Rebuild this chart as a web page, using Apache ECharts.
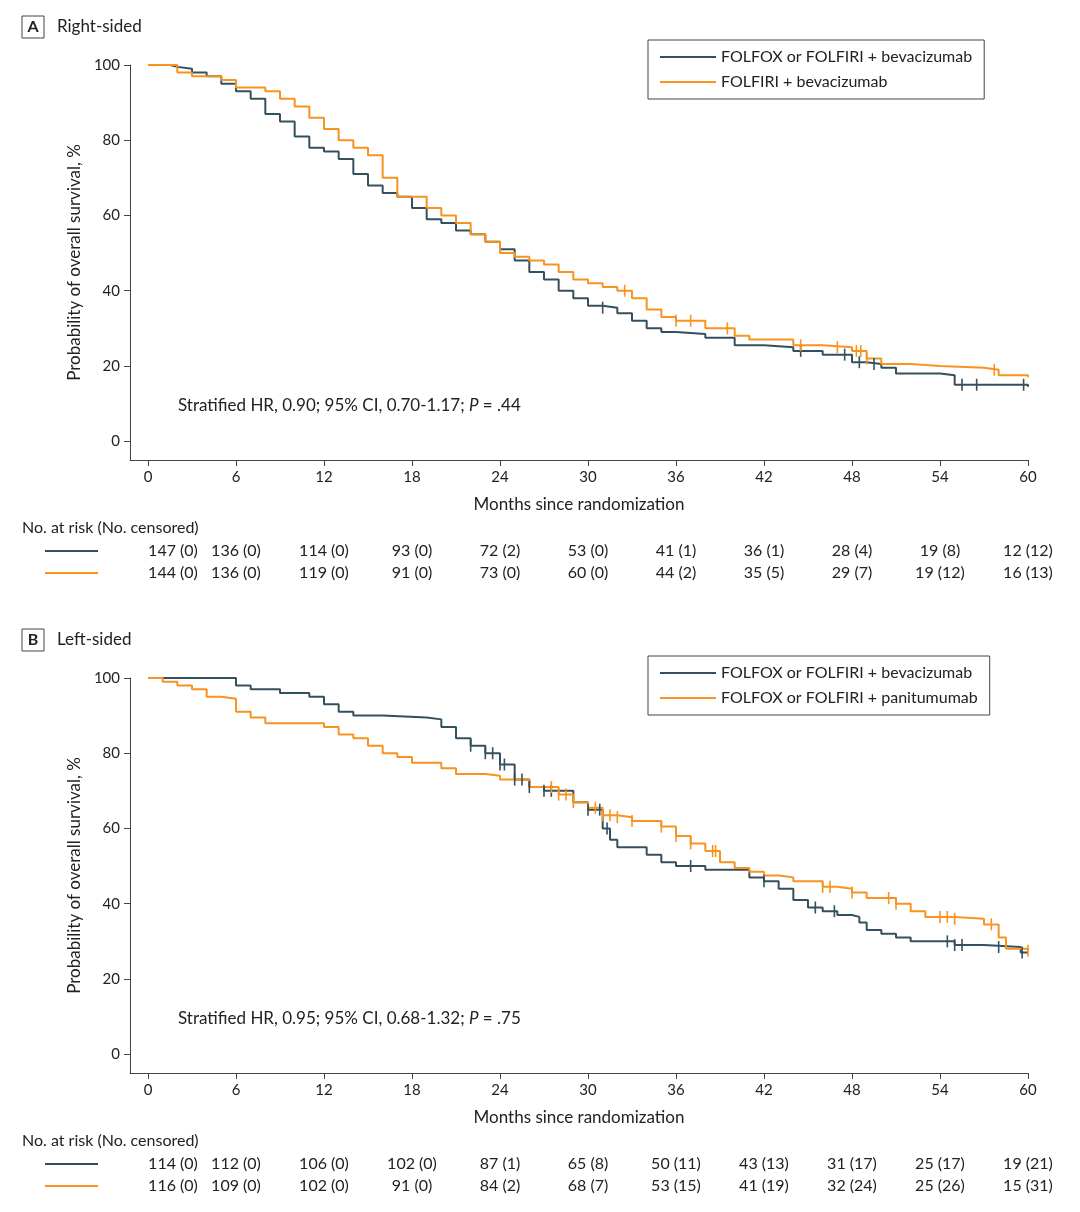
<!DOCTYPE html>
<html><head><meta charset="utf-8">
<script src="https://cdn.jsdelivr.net/npm/echarts@6/dist/echarts.min.js"></script>
<style>html,body{margin:0;background:#fff}#c{width:1080px;height:1212px}</style>
</head><body><div id="c"></div>
<script>
// Panel A (right-sided) KM step data [month, %]
const aBev = [[0,100],[1.5,99.5],[2,99],[3,98],[4,97],[5,95],[6,93],[7,91],[8,87],[9,85],[10,81],[11,78],[12,77],[13,75],[14,71],[15,68],[16,66],[17,65],[18,62],[19,59],[20,58],[21,56],[22,55],[23,53],[24,51],[25,48],[26,45],[27,43],[28,40],[29,38],[30,36],[31,35.5],[32,34],[33,32],[34,30],[35,29],[36,28.5],[38,27.5],[40,25.5],[42,25],[44,24],[46,23],[48,21],[49,20.5],[50,19.5],[51,18],[54,17.5],[55,15],[60,14.5]];
const aFolfiri = [[0,100],[2,98],[3,97],[5,96],[6,94],[8,93],[9,91],[10,89],[11,86],[12,83],[13,80],[14,78],[15,76],[16,70],[17,65],[19,62],[20,60],[21,58],[22,55],[23,53],[24,50],[25,49],[26,48],[27,47],[28,45],[29,43],[30,42],[31,41],[32,40],[33,38],[34,35],[35,33],[36,32],[38,30],[40,28],[41,27],[44,25.5],[46,25],[48,24],[49,22],[50,20.5],[52,20],[54,19.5],[57,19],[58,17.5],[60,17]];
const aBevCens = [31,44.5,47.5,48.5,49.5,55.5,56.5,59.7];
const aFolfiriCens = [32.5,36,37,39.5,44.5,47,48.3,48.6,49,57.7];
// Panel B (left-sided)
const bBev = [[0,100],[5,100],[6,98],[7,97],[9,96],[11,95],[12,93],[13,91],[14,90],[16,89.5],[19,89],[20,87],[21,84],[22,82],[23,80],[24,77],[25,73],[26,71],[27,70],[29,67],[30,65],[31,60],[31.5,57],[32,55],[34,53],[35,51],[36,50],[38,49],[41,47],[42,46],[43,44],[44,41],[45,39],[46,38],[47,37],[48,36.5],[48.5,35],[49,33],[50,32],[51,31],[52,30],[55,29],[57,28.5],[59.5,27],[60,27]];
const bPani = [[0,100],[1,99],[2,98],[3,97],[4,95],[5,94.5],[6,91],[7,89.5],[8,88],[12,87],[13,85],[14,84],[15,82],[16,80],[17,79],[18,77.5],[20,76],[21,74.5],[23,74],[24,73],[26,71],[28,69],[29,67],[30,65.5],[31,63.5],[32,63],[33,62],[35,60.5],[36,58],[37,56],[38,54],[39,51],[40,49.5],[41,48.5],[42,47.5],[43,47],[44,46],[46,44.5],[47,44],[48,43],[49,41.5],[51,40],[52,38],[53,36.5],[55,36],[57,34.5],[58,31],[58.5,28],[60,27.5]];
const bBevCens = [22,23,23.5,24,24.3,25,25.5,26,27,27.5,30,30.8,31.3,37,42,45.5,46.8,54.5,55,55.5,58,59.6];
const bPaniCens = [27.5,28,28.5,29,30.5,31,31.5,32,33,35,36,37,38.5,38.7,46,46.5,48,50.5,51,54,54.5,55,57.5,60];
// risk tables
const riskTimes = [0,6,12,18,24,30,36,42,48,54,60];
const aRiskBev = ['147 (0)','136 (0)','114 (0)','93 (0)','72 (2)','53 (0)','41 (1)','36 (1)','28 (4)','19 (8)','12 (12)'];
const aRiskFolfiri = ['144 (0)','136 (0)','119 (0)','91 (0)','73 (0)','60 (0)','44 (2)','35 (5)','29 (7)','19 (12)','16 (13)'];
const bRiskBev = ['114 (0)','112 (0)','106 (0)','102 (0)','87 (1)','65 (8)','50 (11)','43 (13)','31 (17)','25 (17)','19 (21)'];
const bRiskPani = ['116 (0)','109 (0)','102 (0)','91 (0)','84 (2)','68 (7)','53 (15)','41 (19)','32 (24)','25 (26)','15 (31)'];
const xTicks = [0,6,12,18,24,30,36,42,48,54,60];
const yTicks = [0,20,40,60,80,100];

const DARK = '#34505e', ORANGE = '#f7931e', FONT = 'Lato';
const chart = echarts.init(document.getElementById('c'));

function stepLine(name, data, color, g) {
  return {name, type:'line', step:'end', data, xAxisIndex:g, yAxisIndex:g, showSymbol:false, symbol:'none',
    lineStyle:{color, width:2}, itemStyle:{color}, silent:true};
}
function cens(ts, curve, color, g) {
  const val = t => { let v = curve[0][1]; for (const p of curve) if (p[0] <= t) v = p[1]; return v; };
  return {type:'scatter', data: ts.map(t => [t, val(t)]), xAxisIndex:g, yAxisIndex:g,
    symbol:'rect', symbolSize:[1.6,12], itemStyle:{color, opacity:1}, silent:true, z:3};
}
const tops = [65, 678];
const grids = tops.map(t => ({left:130, right:52, top:t, height:395}));
const xAxes = tops.map((t,i) => ({type:'value', gridIndex:i, min:-1.227, max:60,
  name:'Months since randomization', nameLocation:'middle', nameGap:36,
  nameTextStyle:{fontFamily:FONT, fontSize:17, color:'#222'},
  axisLine:{onZero:false, lineStyle:{color:'#444'}}, axisTick:{customValues:xTicks, length:6, lineStyle:{color:'#444'}},
  axisLabel:{customValues:xTicks, fontFamily:FONT, fontSize:15, color:'#222', margin:10}, splitLine:{show:false}}));
const yAxes = tops.map((t,i) => ({type:'value', gridIndex:i, min:-5, max:100,
  name:'Probability of overall survival, %', nameLocation:'middle', nameGap:46,
  nameTextStyle:{fontFamily:FONT, fontSize:17, color:'#222'},
  axisLine:{onZero:false, lineStyle:{color:'#444'}}, axisTick:{customValues:yTicks, length:6, lineStyle:{color:'#444'}},
  axisLabel:{customValues:yTicks, fontFamily:FONT, fontSize:15, color:'#222', margin:10}, splitLine:{show:false}}));

const legendBase = {orient:'vertical', borderColor:'#444', borderWidth:1, padding:[9,12,9,12], itemGap:9,
  itemWidth:56, itemHeight:2, icon:'rect', textStyle:{fontFamily:FONT, fontSize:16, color:'#222'}};

chart.setOption({
  animation:false,
  grid:grids, xAxis:xAxes, yAxis:yAxes,
  legend:[
    Object.assign({left:648, top:40, data:['FOLFOX or FOLFIRI + bevacizumab','FOLFIRI + bevacizumab']}, legendBase),
    Object.assign({left:648, top:656, data:['FOLFOX or FOLFIRI + bevacizumab ','FOLFOX or FOLFIRI + panitumumab']}, legendBase)
  ],
  series:[
    stepLine('FOLFOX or FOLFIRI + bevacizumab', aBev, DARK, 0),
    stepLine('FOLFIRI + bevacizumab', aFolfiri, ORANGE, 0),
    cens(aBevCens, aBev, DARK, 0), cens(aFolfiriCens, aFolfiri, ORANGE, 0),
    stepLine('FOLFOX or FOLFIRI + bevacizumab ', bBev, DARK, 1),
    stepLine('FOLFOX or FOLFIRI + panitumumab', bPani, ORANGE, 1),
    cens(bBevCens, bBev, DARK, 1), cens(bPaniCens, bPani, ORANGE, 1)
  ]
});

const g = [];
const txt = (x, y, s, extra) => g.push(Object.assign({type:'text', x, y,
  style:Object.assign({text:s, fontFamily:FONT, fontSize:16, fill:'#222'}, extra||{})}));
function panel(i, letter, title, hr, risk1, risk2, yTitle, yRisk) {
  g.push({type:'rect', shape:{x:22, y:yTitle-11, width:22, height:22}, style:{fill:'#fff', stroke:'#444', lineWidth:1}});
  txt(33, yTitle, letter, {fontWeight:'bold', textAlign:'center', textVerticalAlign:'middle'});
  txt(57, yTitle, title, {fontSize:17, textVerticalAlign:'middle'});
  const p = chart.convertToPixel({gridIndex:i}, [0, 0]);
  txt(178, p[1] - 36, '{n|Stratified HR, ' + hr[0] + '; 95% CI, ' + hr[1] + '; }{i|P}{n| = ' + hr[2] + '}',
    {rich:{n:{fontFamily:FONT, fontSize:17, fill:'#222'}, i:{fontFamily:FONT, fontSize:17, fontStyle:'italic', fill:'#222'}}, textVerticalAlign:'middle'});
  txt(22, yRisk, 'No. at risk (No. censored)', {textVerticalAlign:'middle'});
  [[risk1, DARK], [risk2, ORANGE]].forEach(([r, col], k) => {
    const y = yRisk + 23 + k * 22;
    g.push({type:'line', shape:{x1:45, y1:y, x2:98, y2:y}, style:{stroke:col, lineWidth:2}});
    r.forEach((s, j) => {
      const px = chart.convertToPixel({gridIndex:i}, [riskTimes[j], 0])[0];
      txt(j === 0 ? px + 25 : px, y, s, {textAlign:'center', textVerticalAlign:'middle'});
    });
  });
}
panel(0, 'A', 'Right-sided', ['0.90','0.70-1.17','.44'], aRiskBev, aRiskFolfiri, 27, 528);
panel(1, 'B', 'Left-sided', ['0.95','0.68-1.32','.75'], bRiskBev, bRiskPani, 640, 1141);
chart.setOption({graphic:g});
</script></body></html>
